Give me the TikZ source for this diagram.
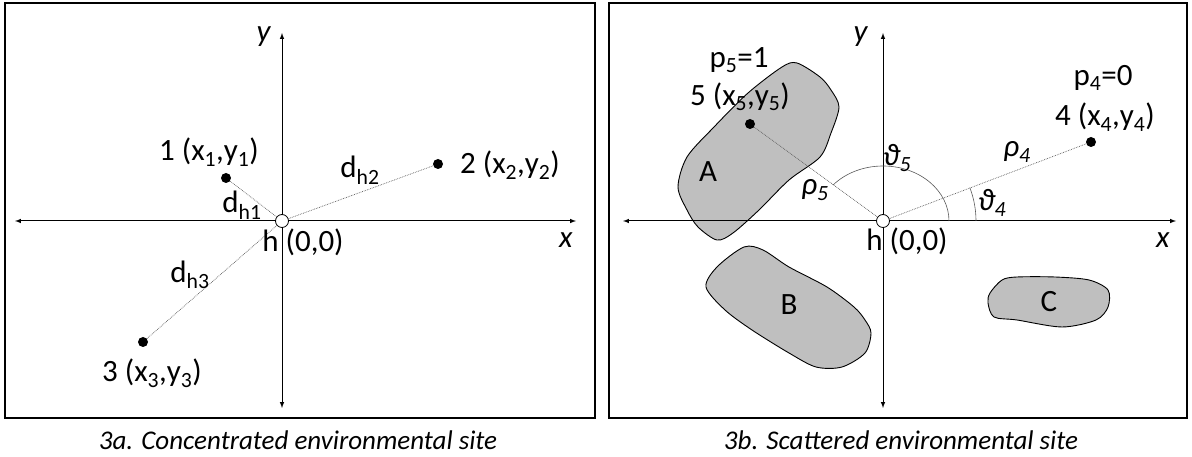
\documentclass[tikz,border=0pt]{standalone}
\usepackage{fontspec}
\setmainfont{Carlito}
\usetikzlibrary{arrows,positioning}
\tikzstyle{axis} = [line width=1pt,<->,>=latex]
\tikzset{
every node/.style={font=\fontsize{31}{36}\selectfont},
frame/.style= {draw,line width=1.6pt},
pt/.style= {circle,fill=black,inner sep=0pt,minimum size=10pt},
home/.style= {circle,draw,fill=white,inner sep=0pt,minimum size=13pt,line width=0.8pt},
dist/.style= {draw=gray!70!black,densely dotted,line width=0.7pt},
angle/.style= {draw=gray!70!black,line width=0.6pt},
site/.style= {draw,fill=gray!50,line width=0.9pt},
caption/.style= {font=\fontsize{27}{32}\selectfont\itshape}
}

\begin{document}
\begin{tikzpicture}[x=1pt,y=1pt]
\useasboundingbox (0,0) rectangle (1192,457);

% the two frames
\draw[frame] (5,39) rectangle (595,454);
\draw[frame] (609,39) rectangle (1187,454);

% --- 3a ---
\coordinate (xl1) at (15,236);
\coordinate (xr1) at (576,236);
\coordinate (yb1) at (282,49);
\coordinate (yt1) at (282,424);
\draw[axis] (xl1) -- (xr1);
\draw[axis] (yb1) -- (yt1);
\node (xlab1) at (566,217) {\textit{x}};
\node (ylab1) at (264,420) {\textit{y}};

\foreach \n/\px/\py in {1/226/279, 2/438/293, 3/143/115}
  \node[pt] (p\n) at (\px,\py) {};
\node[home] (h1) at (282,236) {};
\foreach \n in {1,2,3}
  \draw[dist] (p\n) -- (h1);

\node (l1) at (209,305) {1 (x\textsubscript{1},y\textsubscript{1})};
\node (l2) at (510,292) {2 (x\textsubscript{2},y\textsubscript{2})};
\node (l3) at (152,84) {3 (x\textsubscript{3},y\textsubscript{3})};
\node (d1) at (242,252) {d\textsubscript{h1}};
\node (d2) at (360,287) {d\textsubscript{h2}};
\node (d3) at (190,182) {d\textsubscript{h3}};
\node (o1) at (303,215) {h (0,0)};

\node[caption] (cap1) at (298,17) {3a. Concentrated environmental site};

% --- 3b ---
% the sites A, B and C
\draw[site] plot[smooth cycle,tension=0.5] coordinates {(678,270) (687,300) (714,330) (748,364) (782,390) (797,394) (820,380) (831,367) (839,350) (831,324) (820,300) (789,277) (759,247) (733,224) (717,217) (698,230) (687,247)};
\draw[site] plot[smooth cycle,tension=0.5] coordinates {(706,170) (717,190) (744,210) (763,207) (789,190) (827,170) (854,150) (865,137) (871,124) (865,104) (842,90) (816,90) (789,104) (752,127) (725,147)};
\draw[site] plot[smooth cycle,tension=0.5] coordinates {(990,164) (1002,177) (1017,180) (1055,180) (1089,177) (1108,167) (1108,150) (1096,137) (1062,130) (1017,137) (994,140) (988,154)};
\node (sA) at (708,285) {A};
\node (sB) at (789,152) {B};
\node (sC) at (1049,155) {C};

\coordinate (xl2) at (623,236);
\coordinate (xr2) at (1176,236);
\coordinate (yb2) at (883,49);
\coordinate (yt2) at (883,424);
\draw[axis] (xl2) -- (xr2);
\draw[axis] (yb2) -- (yt2);
\node (xlab2) at (1163,217) {\textit{x}};
\node (ylab2) at (861,420) {\textit{y}};

\coordinate (h2c) at (883,236);
\draw[angle] (h2c) ++(66,0) arc[start angle=0,end angle=139,x radius=66,y radius=55];
\draw[angle] (h2c) ++(93,0) arc[start angle=0,end angle=21,radius=93];

\node[pt] (p4) at (1091,315) {};
\node[pt] (p5) at (750,333) {};
\node[home] (h2) at (h2c) {};
\foreach \n in {4,5}
  \draw[dist] (p\n) -- (h2);

\node (q4) at (1103,379) {p\textsubscript{4}=0};
\node (l4) at (1105,340) {4 (x\textsubscript{4},y\textsubscript{4})};
\node (q5) at (739,397) {p\textsubscript{5}=1};
\node (l5) at (740,360) {5 (x\textsubscript{5},y\textsubscript{5})};
\node (r4) at (1017,305) {\textit{ρ\textsubscript{4}}};
\node (r5) at (815,267) {\textit{ρ\textsubscript{5}}};
\node (t4) at (992,254) {\textit{ϑ\textsubscript{4}}};
\node (t5) at (897,299) {\textit{ϑ\textsubscript{5}}};
\node (o2) at (907,216) {h (0,0)};

\node[caption] (cap2) at (901,17) {3b. Scattered environmental site};
\end{tikzpicture}
\end{document}
